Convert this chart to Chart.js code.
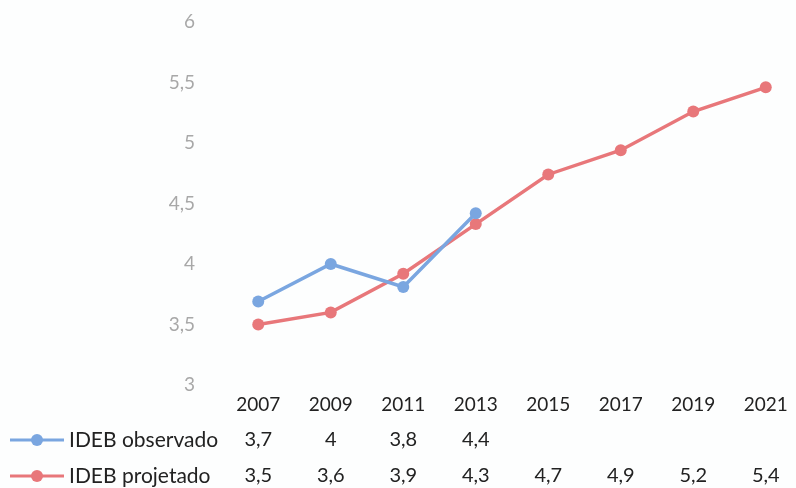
<!DOCTYPE html>
<html>
<head>
<meta charset="utf-8">
<script src="https://cdn.jsdelivr.net/npm/chart.js@4/dist/chart.umd.min.js"></script>
<style>
  html, body { margin: 0; padding: 0; background: #fdfefe; overflow: hidden; }
  #wrap { width: 808px; height: 488px; position: relative; }
</style>
</head>
<body>
<div id="wrap"><canvas id="graph"></canvas></div>
<script>
const years = ['2007', '2009', '2011', '2013', '2015', '2017', '2019', '2021'];
const observado = [3.69, 4.0, 3.81, 4.42, null, null, null, null];
const projetado = [3.5, 3.6, 3.92, 4.33, 4.74, 4.94, 5.26, 5.46];
const observadoText = ['3,7', '4', '3,8', '4,4', '', '', '', ''];
const projetadoText = ['3,5', '3,6', '3,9', '4,3', '4,7', '4,9', '5,2', '5,4'];

const blue = '#7aa6e0';
const red = '#e8777a';
const font = 'Lato, "Open Sans", sans-serif';

// data table drawn under the x labels
const tablePlugin = {
    id: 'dataTable',
    afterDraw(chart) {
        const ctx = chart.ctx;
        const x = chart.scales.x;
        const rows = [
            { name: 'IDEB observado', color: blue, text: observadoText, y: 440 },
            { name: 'IDEB projetado', color: red, text: projetadoText, y: 476 }
        ];
        ctx.save();
        ctx.textBaseline = 'middle';
        rows.forEach(function (r) {
            ctx.strokeStyle = r.color;
            ctx.lineWidth = 3;
            ctx.beginPath();
            ctx.moveTo(10, r.y);
            ctx.lineTo(64, r.y);
            ctx.stroke();
            ctx.fillStyle = r.color;
            ctx.beginPath();
            ctx.arc(37, r.y, 6, 0, Math.PI * 2);
            ctx.fill();
            ctx.fillStyle = '#222';
            ctx.textAlign = 'left';
            ctx.font = '21px ' + font;
            ctx.fillText(r.name, 69, r.y);
            ctx.textAlign = 'center';
            ctx.font = '20px ' + font;
            r.text.forEach(function (t, i) {
                if (t) ctx.fillText(t, x.getPixelForValue(i), r.y);
            });
        });
        ctx.restore();
    }
};

new Chart(document.getElementById('graph'), {
    type: 'line',
    data: {
        labels: years,
        datasets: [
            {
                label: 'IDEB observado',
                data: observado,
                borderColor: blue,
                backgroundColor: blue,
                borderWidth: 3.5,
                pointRadius: 6,
                pointBorderWidth: 0,
                spanGaps: false
            },
            {
                label: 'IDEB projetado',
                data: projetado,
                borderColor: red,
                backgroundColor: red,
                borderWidth: 3.5,
                pointRadius: 6,
                pointBorderWidth: 0
            }
        ]
    },
    plugins: [tablePlugin],
    options: {
        responsive: true,
        maintainAspectRatio: false,
        animation: false,
        layout: { padding: { top: 22, right: 4, left: 0, bottom: 0 } },
        plugins: {
            legend: { display: false },
            tooltip: { enabled: false }
        },
        scales: {
            x: {
                offset: true,
                grid: { display: false, drawTicks: false },
                border: { display: false },
                ticks: {
                    color: '#222',
                    font: { family: font, size: 19 },
                    padding: 8,
                    maxRotation: 0
                },
                afterFit(scale) { scale.height = 103; }
            },
            y: {
                min: 3,
                max: 6,
                grid: { display: false, drawTicks: false },
                border: { display: false },
                ticks: {
                    stepSize: 0.5,
                    color: '#a8a8a8',
                    font: { family: font, size: 19 },
                    padding: 27,
                    callback: function (v) { return String(v).replace('.', ','); }
                },
                afterFit(scale) {
                    scale.width = 222;
                    scale.paddingTop = 10;
                    scale.paddingBottom = 10;
                }
            }
        }
    }
});
</script>
</body>
</html>
